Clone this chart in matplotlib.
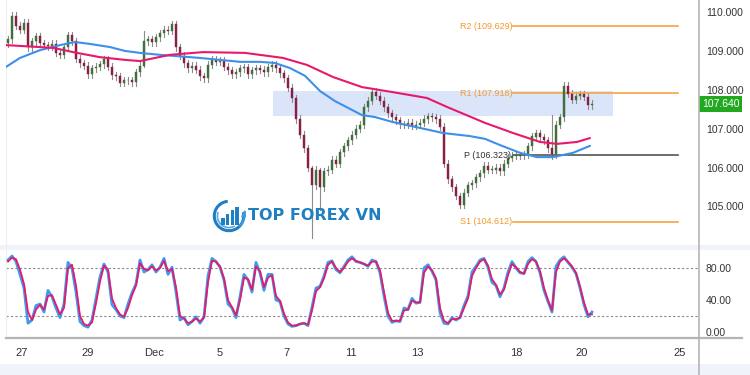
import numpy as np
import matplotlib
matplotlib.use("Agg")
import matplotlib.pyplot as plt
from matplotlib.patches import Rectangle, Arc, FancyArrowPatch

plt.rcParams['font.family'] = ['Liberation Sans', 'DejaVu Sans']

# ---------------------------------------------------------------------------
# data (one candle per step)
# ---------------------------------------------------------------------------
closes = [
    109.30, 109.90, 109.65, 109.55, 109.72, 109.10, 109.25, 109.38, 109.20, 109.15,
    109.12, 109.18, 108.95, 108.90, 109.10, 109.40, 109.25, 108.80, 108.68, 108.62,
    108.40, 108.55, 108.60, 108.66, 108.78, 108.60, 108.38, 108.35, 108.18, 108.25,
    108.25, 108.20, 108.45, 108.62, 109.25, 109.30, 109.22, 109.35, 109.45, 109.55,
    109.52, 109.68, 109.10, 108.88, 108.68, 108.55, 108.62, 108.52, 108.35, 108.30,
    108.64, 108.77, 108.72, 108.75, 108.60, 108.50, 108.40, 108.45, 108.55, 108.58,
    108.40, 108.50, 108.55, 108.52, 108.45, 108.58, 108.65, 108.55, 108.42, 108.30,
    108.05, 107.78, 107.25, 106.85, 106.50, 106.00, 105.55, 105.95, 105.50, 105.90,
    105.95, 106.20, 106.10, 106.40, 106.55, 106.70, 106.85, 107.00, 107.10, 107.55,
    107.72, 107.95, 107.85, 107.72, 107.55, 107.40, 107.30, 107.22, 107.12, 107.10,
    107.15, 107.08, 107.10, 107.15, 107.25, 107.32, 107.30, 107.25, 107.05, 106.10,
    105.70, 105.50, 105.28, 105.05, 105.35, 105.55, 105.60, 105.75, 105.85, 106.05,
    105.95, 105.95, 106.00, 105.90, 106.10, 106.25, 106.30, 106.30, 106.32, 106.35,
    106.55, 106.80, 106.88, 106.78, 106.70, 106.50, 106.35, 107.10, 107.30, 108.10,
    107.90, 107.75, 107.85, 107.88, 107.82, 107.60, 107.64,
]
first_open = 109.20
# candles with long wicks: index -> (low, high)
long_wicks = {34: (108.60, 109.50), 76: (104.20, 106.05), 78: (104.90, 105.98),
              113: (104.97, 105.36), 136: (106.22, 107.35)}

# moving averages (time in candle steps)
blue_t = [-0.5, 3, 8, 13, 16.75, 20.5, 25.5, 29.25, 33, 38, 41.75, 48, 53, 58, 63,
          66.75, 70.5, 74.25, 78, 81.75, 85.5, 88.5, 91.75, 96.25, 103, 108.75,
          115.5, 119.25, 123, 128, 132.25, 136.25, 141.25, 145.5]
blue_ma = [108.59, 108.82, 109.02, 109.15, 109.23, 109.18, 109.10, 109.00, 108.95,
           108.90, 108.87, 108.82, 108.77, 108.72, 108.72, 108.69, 108.56, 108.36,
           107.97, 107.71, 107.51, 107.35, 107.30, 107.17, 107.02, 106.89, 106.81,
           106.74, 106.58, 106.38, 106.27, 106.27, 106.38, 106.56]
red_t = [-0.5, 11.25, 17.25, 23, 29.25, 33, 40.5, 48.75, 59.25, 68.75, 74.75, 81.25,
         88.5, 96.25, 104.75, 109.75, 119.25, 126.25, 133, 137.25, 142.25, 145.5]
red_ma = [109.15, 109.08, 108.95, 108.84, 108.77, 108.74, 108.90, 108.97, 108.95,
          108.82, 108.64, 108.33, 108.07, 107.94, 107.79, 107.56, 107.15, 106.89,
          106.66, 106.61, 106.66, 106.76]

# stochastic %K (blue) and %D (magenta)
stoch_k = [
    90, 95, 88, 72, 55, 11, 15, 33, 35, 25,
    52, 44, 30, 18, 35, 87, 80, 50, 13, 8,
    6, 15, 42, 69, 85, 75, 34, 28, 20, 18,
    35, 49, 60, 90, 75, 78, 84, 75, 81, 92,
    72, 81, 50, 15, 18, 9, 13, 19, 11, 19,
    70, 92, 88, 81, 65, 35, 30, 18, 44, 72,
    65, 50, 87, 74, 52, 72, 72, 40, 38, 20,
    10, 7, 8, 10, 11, 8, 31, 55, 57, 70,
    87, 89, 78, 74, 82, 90, 94, 88, 87, 85,
    82, 90, 88, 74, 45, 20, 12, 14, 13, 30,
    28, 42, 36, 37, 80, 84, 76, 65, 24, 11,
    10, 18, 15, 18, 33, 45, 75, 82, 90, 92,
    81, 62, 58, 44, 55, 75, 88, 80, 74, 73,
    88, 93, 88, 74, 52, 38, 25, 82, 90, 94,
    87, 81, 73, 55, 34, 19, 25,
]
stoch_d = [
    88, 93, 91, 78, 60, 25, 15, 28, 34, 28,
    45, 46, 34, 22, 30, 80, 84, 58, 20, 10,
    8, 12, 36, 63, 83, 78, 42, 30, 22, 19,
    30, 46, 58, 86, 79, 77, 82, 77, 80, 89,
    76, 79, 56, 20, 17, 11, 13, 17, 13, 18,
    62, 89, 88, 82, 67, 40, 31, 21, 40, 68,
    66, 53, 82, 76, 56, 68, 71, 45, 39, 23,
    12, 8, 8, 10, 11, 9, 27, 51, 56, 67,
    84, 88, 80, 75, 80, 88, 92, 89, 87, 85,
    83, 88, 88, 77, 50, 24, 14, 14, 14, 27,
    28, 39, 37, 37, 74, 82, 77, 67, 30, 14,
    11, 16, 16, 18, 30, 42, 70, 80, 88, 91,
    83, 66, 59, 47, 53, 71, 85, 81, 75, 73,
    85, 91, 88, 76, 55, 40, 27, 75, 88, 92,
    88, 82, 74, 57, 37, 22, 22,
]

# pivot levels
pivot_names = ["R2", "R1", "P", "S1"]
pivot_levels = [109.629, 107.918, 106.323, 104.612]
zone = (107.33, 107.97)
last_price = 107.640

price_ticks = [105, 106, 107, 108, 109, 110]
stoch_ticks = [0, 40, 80]
date_pos = [3.5, 20, 36.5, 53, 69.5, 85.75, 102.25, 127, 143.5, 168]
date_labels = ["27", "29", "Dec", "5", "7", "11", "13", "18", "20", "25"]

# ---------------------------------------------------------------------------
W, H = 750, 375
fig = plt.figure(figsize=(7.5, 3.75), dpi=100)
fig.patch.set_facecolor("white")

def fx(px):
    return px / W

def fy(py):
    return 1 - py / H

ax = fig.add_axes([fx(6), fy(245), fx(693), 245 / H])
ax2 = fig.add_axes([fx(6), fy(338), fx(693), 88 / H])

xlim = (-0.5, 172.75)
UP, DOWN, WICK = "#3f6f3a", "#8a1f45", "#8c8c8c"

# light separators (drawn first, behind everything)
fig.add_artist(Rectangle((0, fy(250)), 1, 5 / H, transform=fig.transFigure,
                         facecolor="#f0f3fa", edgecolor="none", zorder=0))
fig.add_artist(Rectangle((0, 0), 1, 11 / H, transform=fig.transFigure,
                         facecolor="#f0f3fa", edgecolor="none", zorder=0))

# candles
opens = [first_open] + closes[:-1]
for i, (o, c) in enumerate(zip(opens, closes)):
    lo, hi = long_wicks.get(i, (min(o, c) - 0.09, max(o, c) + 0.09))
    ax.plot([i, i], [lo, hi], color=WICK, lw=0.8, zorder=2)
    col = UP if c >= o else DOWN
    h = max(abs(c - o), 0.015)
    ax.add_patch(Rectangle((i - 0.3, min(o, c)), 0.6, h, facecolor=col,
                           edgecolor=col, lw=0.3, zorder=3))

ax.plot(blue_t, blue_ma, color="#3d8fea", lw=1.5, zorder=4, solid_capstyle="round")
ax.plot(red_t, red_ma, color="#e8196a", lw=1.5, zorder=4, solid_capstyle="round")

ax.add_patch(Rectangle((66.25, zone[0]), 85, zone[1] - zone[0],
                       facecolor="#c9d7f8", alpha=0.65, lw=0, zorder=1))

for name, lvl in zip(pivot_names, pivot_levels):
    col = "#555555" if name == "P" else "#f7a443"
    ax.plot([126.25, 167.5], [lvl, lvl], color=col, lw=1.2, zorder=2)
    ax.text(113 if name != "P" else 114, lvl, f"{name} ({lvl:.3f})",
            color="#333333" if name == "P" else "#f39a2e",
            fontsize=6.5, va="center", ha="left", zorder=5)

ax.set_xlim(*xlim)
ax.set_ylim(104.01, 110.31)
ax.yaxis.tick_right()
ax.set_yticks(price_ticks)
ax.set_yticklabels([f"{v:.3f}" for v in price_ticks], fontsize=7.5, color="#333333")
ax.tick_params(axis="y", length=0, pad=5)
ax.set_xticks([])
for s in ax.spines.values():
    s.set_visible(False)
ax.spines["left"].set_visible(True)
ax.spines["left"].set_color("#eeeeee")

# current price tag
ax.text(1.004, last_price, f"{last_price:.3f}", transform=ax.get_yaxis_transform(),
        fontsize=7.5, color="white", va="center", ha="left", zorder=6,
        bbox=dict(boxstyle="square,pad=0.3", facecolor="#22a81f", edgecolor="none"),
        clip_on=False)

# stochastic panel
t = np.arange(len(stoch_k))
ax2.plot(t, stoch_k, color="#3d9bf0", lw=2.0, zorder=3)
ax2.plot(t, stoch_d, color="#e8196a", lw=1.3, zorder=4)
for lvl in (80, 20):
    ax2.axhline(lvl, color="#8a8a8a", lw=0.8, ls=(0, (2, 2)), zorder=1)
ax2.set_xlim(*xlim)
ax2.set_ylim(-7.5, 102.5)
ax2.yaxis.tick_right()
ax2.set_yticks(stoch_ticks)
ax2.set_yticklabels([f"{v:.2f}" for v in stoch_ticks], fontsize=7.5, color="#333333")
ax2.tick_params(axis="y", length=0, pad=5)
ax2.set_xticks(date_pos)
ax2.set_xticklabels(date_labels, fontsize=8, color="#333333")
ax2.tick_params(axis="x", length=0, pad=7)
for s in ax2.spines.values():
    s.set_visible(False)
ax2.spines["bottom"].set_visible(True)
ax2.spines["bottom"].set_color("#b5b5b5")
ax2.spines["bottom"].set_linewidth(1.6)
ax2.spines["left"].set_visible(True)
ax2.spines["left"].set_color("#eeeeee")

# right axis line
fig.add_artist(plt.Line2D([fx(699), fx(699)], [fy(375), 1], transform=fig.transFigure,
                          color="#b5b5b5", lw=1.2))
fig.add_artist(plt.Line2D([fx(699), fx(742)], [fy(338), fy(338)],
                          transform=fig.transFigure, color="#b5b5b5", lw=1.6))

# watermark logo
LOGO = "#1e7fc2"
lax = fig.add_axes([fx(212), fy(233), fx(34), 34 / H])
lax.set_xlim(-1.1, 1.1)
lax.set_ylim(-1.1, 1.1)
lax.axis("off")
lax.add_patch(Arc((0, 0), 1.9, 1.9, theta1=95, theta2=15, color=LOGO, lw=2.2))
lax.add_patch(Arc((0, 0), 1.5, 1.5, theta1=160, theta2=300, color="#5aa7dd", lw=1.2))
for bx, bh in [(-0.5, 0.5), (-0.2, 0.75), (0.1, 1.0), (0.4, 1.2)]:
    lax.add_patch(Rectangle((bx, -0.6), 0.22, bh, facecolor=LOGO, edgecolor="none"))
lax.add_patch(FancyArrowPatch((0.55, -0.75), (0.95, 0.55), connectionstyle="arc3,rad=0.35",
                              arrowstyle="-|>,head_length=3,head_width=2.5",
                              color="#3a9be0", lw=1.4))
fig.text(fx(248), fy(216), "TOP FOREX VN", fontsize=11.5, fontweight="bold",
         color=LOGO, va="center", ha="left", family="DejaVu Sans")

fig.savefig("out.png", dpi=100, facecolor="white")
